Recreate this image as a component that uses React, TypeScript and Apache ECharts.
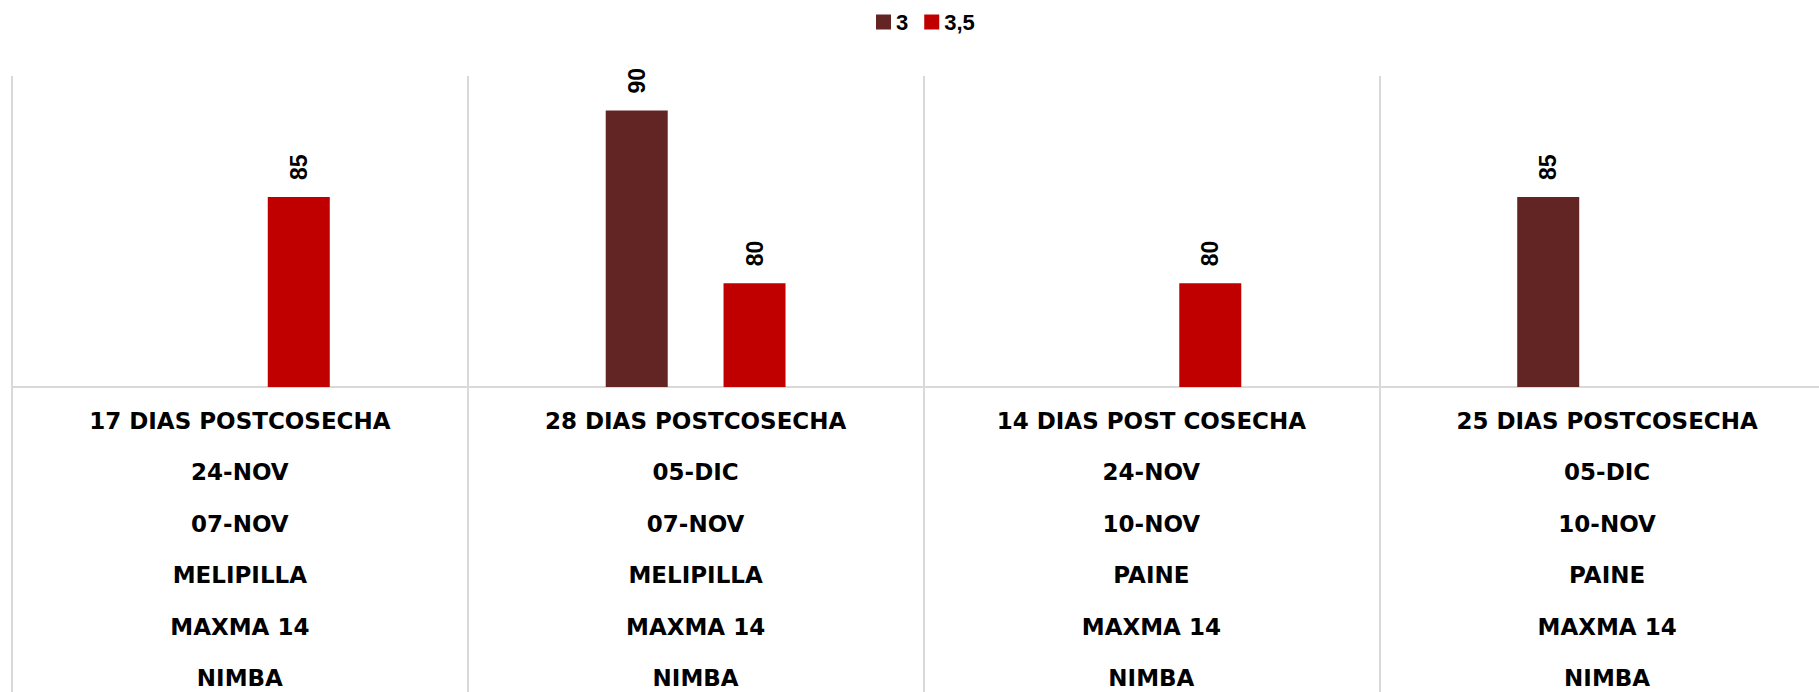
import React, { useEffect, useRef } from "react";
import * as echarts from "echarts";

// Multi-level category labels (top row = innermost level)
const periodLabels = ["17 DIAS POSTCOSECHA", "28 DIAS POSTCOSECHA", "14 DIAS POST COSECHA", "25 DIAS POSTCOSECHA"];
const evalDates = ["24-NOV", "05-DIC", "24-NOV", "05-DIC"];
const harvestDates = ["07-NOV", "07-NOV", "10-NOV", "10-NOV"];
const locations = ["MELIPILLA", "MELIPILLA", "PAINE", "PAINE"];
const varieties = ["MAXMA 14", "MAXMA 14", "MAXMA 14", "MAXMA 14"];
const rootstocks = ["NIMBA", "NIMBA", "NIMBA", "NIMBA"];

// Series
const seriesNames = ["3", "3,5"];
const values3 = [null, 90, null, 85];
const values35 = [85, 80, 80, null];

// Value axis
const yMin = 74;
const yMax = 92;
const yInterval = 2;

const categories = periodLabels.map((p, i) =>
  [p, evalDates[i], harvestDates[i], locations[i], varieties[i], rootstocks[i]].join("\n")
);

const colors = ["#632523", "#C00000"];

export default function App() {
  const ref = useRef<HTMLDivElement>(null);

  useEffect(() => {
    if (!ref.current) return;
    const chart = echarts.init(ref.current, undefined, { renderer: "svg" });
    const labelStyle = {
      show: true,
      position: "top" as const,
      rotate: 90,
      align: "left" as const,
      verticalAlign: "middle" as const,
      distance: 17,
      color: "#000",
      fontFamily: "Liberation Sans",
      fontWeight: "bold" as const,
      fontSize: 23,
    };
    chart.setOption({
      animation: false,
      backgroundColor: "#fff",
      legend: {
        show: true,
        left: 871,
        top: 6,
        itemWidth: 15,
        itemHeight: 15,
        itemGap: 16,
        icon: "rect",
        textStyle: {
          color: "#000",
          fontFamily: "Liberation Sans",
          fontWeight: "bold",
          fontSize: 22,
        },
        data: seriesNames,
      },
      grid: {
        left: 12,
        right: 0,
        top: 76,
        bottom: 305,
        containLabel: false,
        outerBoundsMode: "none",
      },
      xAxis: {
        type: "category",
        data: categories,
        boundaryGap: true,
        axisLine: { show: true, onZero: false, lineStyle: { color: "#d9d9d9", width: 2 } },
        axisTick: {
          show: true,
          alignWithLabel: false,
          length: 320,
          lineStyle: { color: "#d9d9d9", width: 2 },
        },
        splitLine: { show: true, lineStyle: { color: "#d9d9d9", width: 2 } },
        axisLabel: {
          interval: 0,
          margin: 8,
          color: "#000",
          fontFamily: "DejaVu Sans",
          fontWeight: "bold",
          fontSize: 23,
          lineHeight: 51.5,
        },
      },
      yAxis: {
        type: "value",
        min: yMin,
        max: yMax,
        interval: yInterval,
        show: false,
        splitLine: { show: false },
      },
      series: [
        {
          name: seriesNames[0],
          type: "bar",
          data: values3,
          barWidth: 62,
          barGap: "90%",
          itemStyle: { color: colors[0] },
          label: labelStyle,
        },
        {
          name: seriesNames[1],
          type: "bar",
          data: values35,
          barWidth: 62,
          barGap: "90%",
          itemStyle: { color: colors[1] },
          label: labelStyle,
        },
      ],
    });
    return () => chart.dispose();
  }, []);

  return (
    <div
      style={{
        position: "absolute",
        left: 0,
        top: 0,
        width: 1819,
        height: 692,
        overflow: "hidden",
        background: "#fff",
      }}
    >
      <div ref={ref} style={{ width: 1835, height: 692 }} />
    </div>
  );
}
